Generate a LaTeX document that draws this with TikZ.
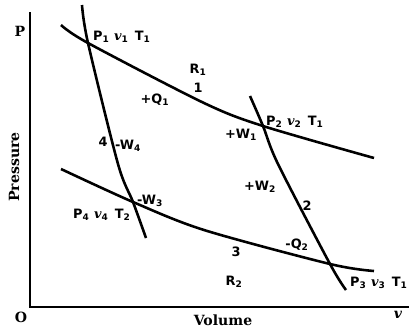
\documentclass[tikz,border=0pt]{standalone}
\usepackage{fontspec}
\setmainfont{DejaVu Serif}
\setsansfont{DejaVu Sans}
\usepackage{tikz}
\newcommand{\idx}[1]{\textsubscript{#1}}
\newcommand{\vol}{\textrm{\bfseries\itshape v}}
\begin{document}
\begin{tikzpicture}[x=0.03cm,y=-0.03cm,
    curve/.style={line width=2.2pt},
    lbl/.style={font=\sffamily\bfseries\fontsize{11}{13}\selectfont,inner sep=0pt},
    axislbl/.style={font=\bfseries\large,inner sep=0pt}]
  \useasboundingbox (0,0) rectangle (409,328);
  % axes
  \coordinate (O) at (30,307);
  \coordinate (ptop) at (30,12);
  \coordinate (vend) at (409,307);
  \draw[line width=2pt] (ptop) -- (O) -- (vend);
  % corners of the cycle
  \coordinate (s1) at (88,43);
  \coordinate (s2) at (263,126);
  \coordinate (s3) at (330,264);
  \coordinate (s4) at (133,202);
  % isotherms
  \draw[curve] plot[smooth] coordinates {(61,25) (s1) (204,103) (s2) (374,158)};
  \draw[curve] plot[smooth] coordinates {(61,169) (s4) (204,230) (s3) (374,271)};
  % adiabats
  \draw[curve] plot[smooth] coordinates {(82,5) (s1) (118,164) (s4) (146,238)};
  \draw[curve] plot[smooth] coordinates {(250,96) (s2) (278,164) (s3) (346,290)};
  % labels
  \node[lbl,anchor=west] (st1) at (93,37) {P\idx{1} \vol\idx{1}\enspace T\idx{1}};
  \node[lbl,anchor=west] (st2) at (266,122) {P\idx{2} \vol\idx{2}\enspace T\idx{1}};
  \node[lbl,anchor=west] (st3) at (350,283) {P\idx{3} \vol\idx{3}\enspace T\idx{1}};
  \node[lbl,anchor=west] (st4) at (73,215) {P\idx{4} \vol\idx{4}\enspace T\idx{2}};
  \node[lbl] (r1) at (198,70) {R\idx{1}};
  \node[lbl] (r2) at (234,282) {R\idx{2}};
  \node[lbl] (n1) at (198,88) {1};
  \node[lbl] (n2) at (307,206) {2};
  \node[lbl] (n3) at (236,252) {3};
  \node[lbl] (n4) at (103,142) {4};
  \node[lbl] (q1) at (155,100) {+Q\idx{1}};
  \node[lbl] (q2) at (297,245) {-Q\idx{2}};
  \node[lbl] (w1) at (241,135) {+W\idx{1}};
  \node[lbl] (w2) at (260,187) {+W\idx{2}};
  \node[lbl] (w3) at (150,201) {-W\idx{3}};
  \node[lbl] (w4) at (128,146) {-W\idx{4}};
  % axis labels
  \node[axislbl] (plbl) at (20,31) {P};
  \node[axislbl] (olbl) at (21,317) {O};
  \node[axislbl,rotate=90] (pressure) at (14,167) {Pressure};
  \node[axislbl] (volume) at (223,320) {Volume};
  \node[axislbl] (vlbl) at (398,315) {\vol};
\end{tikzpicture}
\end{document}
